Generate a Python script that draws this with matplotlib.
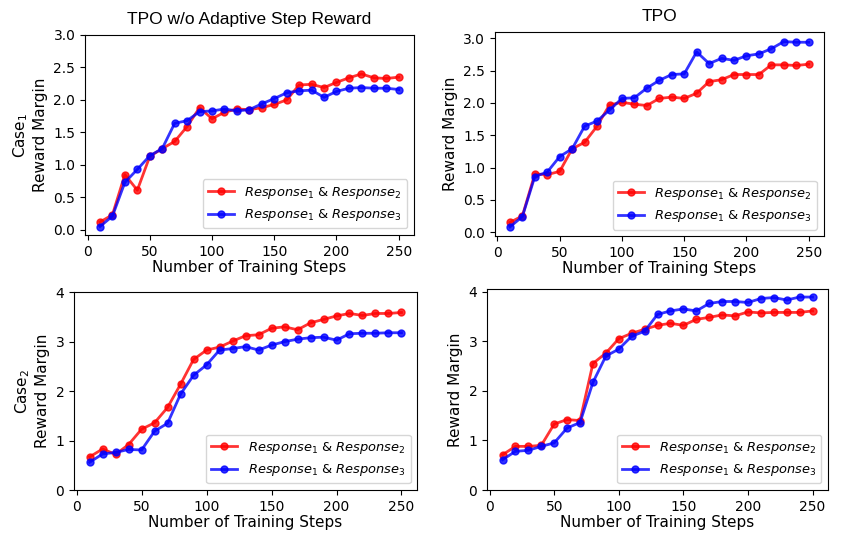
import matplotlib
matplotlib.use('Agg')
import matplotlib.pyplot as plt

steps = list(range(10, 260, 10))

# Case 1, TPO w/o Adaptive Step Reward
c1_noasr_r12 = [0.12, 0.23, 0.85, 0.61, 1.13, 1.25, 1.36, 1.59, 1.88, 1.71, 1.81, 1.86, 1.85,
                1.88, 1.93, 2.00, 2.23, 2.24, 2.19, 2.27, 2.34, 2.40, 2.34, 2.33, 2.35]
c1_noasr_r13 = [0.05, 0.21, 0.73, 0.93, 1.14, 1.25, 1.64, 1.68, 1.82, 1.83, 1.86, 1.83, 1.85,
                1.94, 2.02, 2.11, 2.14, 2.15, 2.04, 2.13, 2.18, 2.19, 2.18, 2.18, 2.16]
# Case 1, TPO
c1_tpo_r12 = [0.15, 0.25, 0.90, 0.89, 0.94, 1.29, 1.39, 1.64, 1.97, 2.01, 1.98, 1.96, 2.07,
              2.09, 2.07, 2.15, 2.33, 2.36, 2.44, 2.44, 2.44, 2.59, 2.59, 2.58, 2.60]
c1_tpo_r13 = [0.08, 0.24, 0.86, 0.93, 1.17, 1.29, 1.64, 1.72, 1.89, 2.07, 2.08, 2.23, 2.35,
              2.44, 2.45, 2.79, 2.61, 2.69, 2.66, 2.73, 2.76, 2.84, 2.95, 2.94, 2.94]
# Case 2, TPO w/o Adaptive Step Reward
c2_noasr_r12 = [0.67, 0.83, 0.72, 0.92, 1.23, 1.36, 1.67, 2.14, 2.64, 2.83, 2.89, 3.01, 3.12,
                3.14, 3.27, 3.30, 3.24, 3.38, 3.45, 3.52, 3.57, 3.53, 3.57, 3.57, 3.59]
c2_noasr_r13 = [0.56, 0.73, 0.76, 0.82, 0.81, 1.19, 1.35, 1.94, 2.32, 2.53, 2.83, 2.86, 2.90,
                2.83, 2.93, 3.00, 3.05, 3.08, 3.09, 3.03, 3.16, 3.17, 3.17, 3.18, 3.18]
# Case 2, TPO
c2_tpo_r12 = [0.71, 0.88, 0.88, 0.90, 1.33, 1.42, 1.40, 2.55, 2.76, 3.05, 3.16, 3.24, 3.32,
              3.36, 3.32, 3.44, 3.48, 3.53, 3.51, 3.59, 3.57, 3.58, 3.58, 3.58, 3.61]
c2_tpo_r13 = [0.61, 0.78, 0.80, 0.88, 0.95, 1.25, 1.36, 2.17, 2.70, 2.84, 3.10, 3.20, 3.54,
              3.61, 3.65, 3.61, 3.76, 3.80, 3.80, 3.78, 3.86, 3.88, 3.83, 3.89, 3.89]

label_12 = r'$Response_1$ & $Response_2$'
label_13 = r'$Response_1$ & $Response_3$'

fig = plt.figure(figsize=(8.47, 5.48), dpi=100)
ax1 = fig.add_axes([0.1004, 0.5712, 0.388, 0.365])
ax2 = fig.add_axes([0.5844, 0.569, 0.388, 0.372])
ax3 = fig.add_axes([0.0874, 0.1058, 0.405, 0.361])
ax4 = fig.add_axes([0.575, 0.1058, 0.4026, 0.367])

panels = [(ax1, c1_noasr_r12, c1_noasr_r13), (ax2, c1_tpo_r12, c1_tpo_r13),
          (ax3, c2_noasr_r12, c2_noasr_r13), (ax4, c2_tpo_r12, c2_tpo_r13)]
for ax, r12, r13 in panels:
    ax.plot(steps, r12, 'o-', color='red', alpha=0.8, linewidth=2, markersize=5, label=label_12)
    ax.plot(steps, r13, 'o-', color='blue', alpha=0.8, linewidth=2, markersize=5, label=label_13)
    ax.set_xlabel('Number of Training Steps', fontsize=11, labelpad=1)
    ax.legend(loc='lower right', fontsize=9.4)
    ax.set_xticks([0, 50, 100, 150, 200, 250])

ax1.set_ylim(-0.08, 3.0)
ax3.set_ylim(0, 4)
ax4.set_ylim(bottom=0)
ax3.set_yticks([0, 1, 2, 3, 4])
ax4.set_yticks([0, 1, 2, 3, 4])

ax1.set_ylabel('Case$_1$\nReward Margin', fontsize=11)
ax2.set_ylabel('Reward Margin', fontsize=11)
ax3.set_ylabel('Case$_2$\nReward Margin', fontsize=11)
ax4.set_ylabel('Reward Margin', fontsize=11)

ax1.set_title('TPO w/o Adaptive Step Reward', fontsize=12.5, family='Liberation Sans', pad=8)
ax2.set_title('TPO', fontsize=12.5, family='Liberation Sans', pad=8)

fig.savefig('out.png', dpi=100)
